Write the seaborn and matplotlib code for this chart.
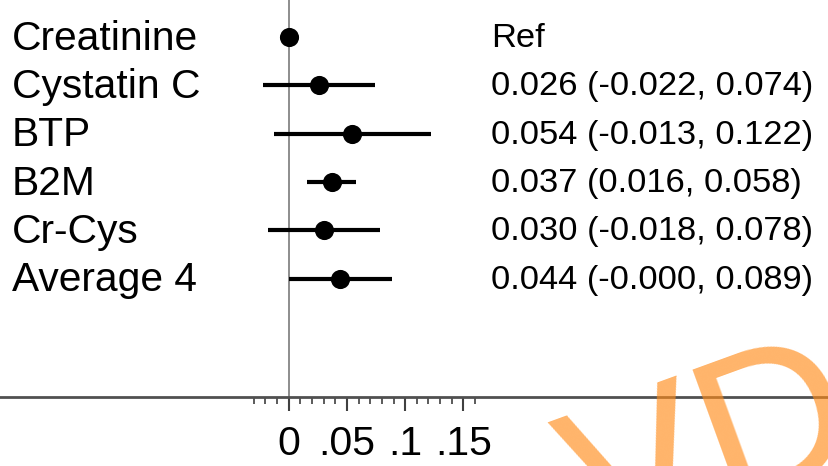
import matplotlib
matplotlib.use("Agg")
import matplotlib.pyplot as plt
import matplotlib.ticker as mticker
import seaborn as sns
import pandas as pd
import numpy as np

labels = ["Creatinine", "Cystatin C", "BTP", "B2M", "Cr-Cys", "Average 4"]
estimates = [0.0, 0.026, 0.054, 0.037, 0.030, 0.044]
lower = [np.nan, -0.022, -0.013, 0.016, -0.018, -0.000]
upper = [np.nan, 0.074, 0.122, 0.058, 0.078, 0.089]
effect_text = ["Ref", "0.026 (-0.022, 0.074)", "0.054 (-0.013, 0.122)",
               "0.037 (0.016, 0.058)", "0.030 (-0.018, 0.078)", "0.044 (-0.000, 0.089)"]
major_ticks = [0, 0.05, 0.1, 0.15]
major_tick_labels = ["0", ".05", ".1", ".15"]

df = pd.DataFrame({"label": labels, "est": estimates, "lo": lower, "hi": upper,
                   "txt": effect_text, "row": np.arange(len(labels))})

sns.set_style("white")
plt.rcParams['font.family'] = ['Liberation Sans', 'DejaVu Sans']
plt.rcParams['text.color'] = 'black'
plt.rcParams['xtick.color'] = 'black'

fig = plt.figure(figsize=(8.29, 4.66), dpi=100)
ax = fig.add_axes([0, 1 - 397 / 466, 1, 397 / 466])

# reference line at 0
ax.axvline(0, color="#7a7a7a", lw=1.2, zorder=1)

ci = df.dropna()
ax.hlines(ci["row"], ci["lo"], ci["hi"], color="black", lw=3, zorder=2)
sns.scatterplot(data=df, x="est", y="row", ax=ax, color="black", s=190,
                edgecolor="black", linewidth=0, zorder=3, legend=False)

ax.set_xlim(-0.248, 0.464)
ax.set_ylim(7.45, -0.77)

for _, r in df.iterrows():
    ax.text(-0.238, r["row"] + 0.03, r["label"], fontsize=29.3, va="center", ha="left",
            color="black")
    ax.text(0.1735, r["row"] + 0.03, r["txt"], fontsize=24.8, va="center", ha="left",
            color="black")

for s in ["left", "right", "top"]:
    ax.spines[s].set_visible(False)
ax.spines["bottom"].set_color("#505050")
ax.spines["bottom"].set_linewidth(2)

ax.set_yticks([])
ax.xaxis.set_major_locator(mticker.FixedLocator(major_ticks))
ax.xaxis.set_major_formatter(mticker.FixedFormatter(major_tick_labels))
ax.xaxis.set_minor_locator(mticker.FixedLocator(np.arange(-0.03, 0.165, 0.01)))
ax.tick_params(axis="x", which="major", bottom=True, length=10, width=1.5,
               color="#404040", labelsize=29.5, pad=10, direction="out",
               labelcolor="black")
ax.tick_params(axis="x", which="minor", bottom=True, length=5, width=1.2,
               color="#404040", direction="out")
ax.set_xlabel("")
ax.set_ylabel("")

# watermark
fig.text(0.655, -0.19, "VD", fontsize=150, color="#FF8C1A", alpha=0.65,
         rotation=20, ha="left", va="baseline")

fig.savefig("out.png", dpi=100)
